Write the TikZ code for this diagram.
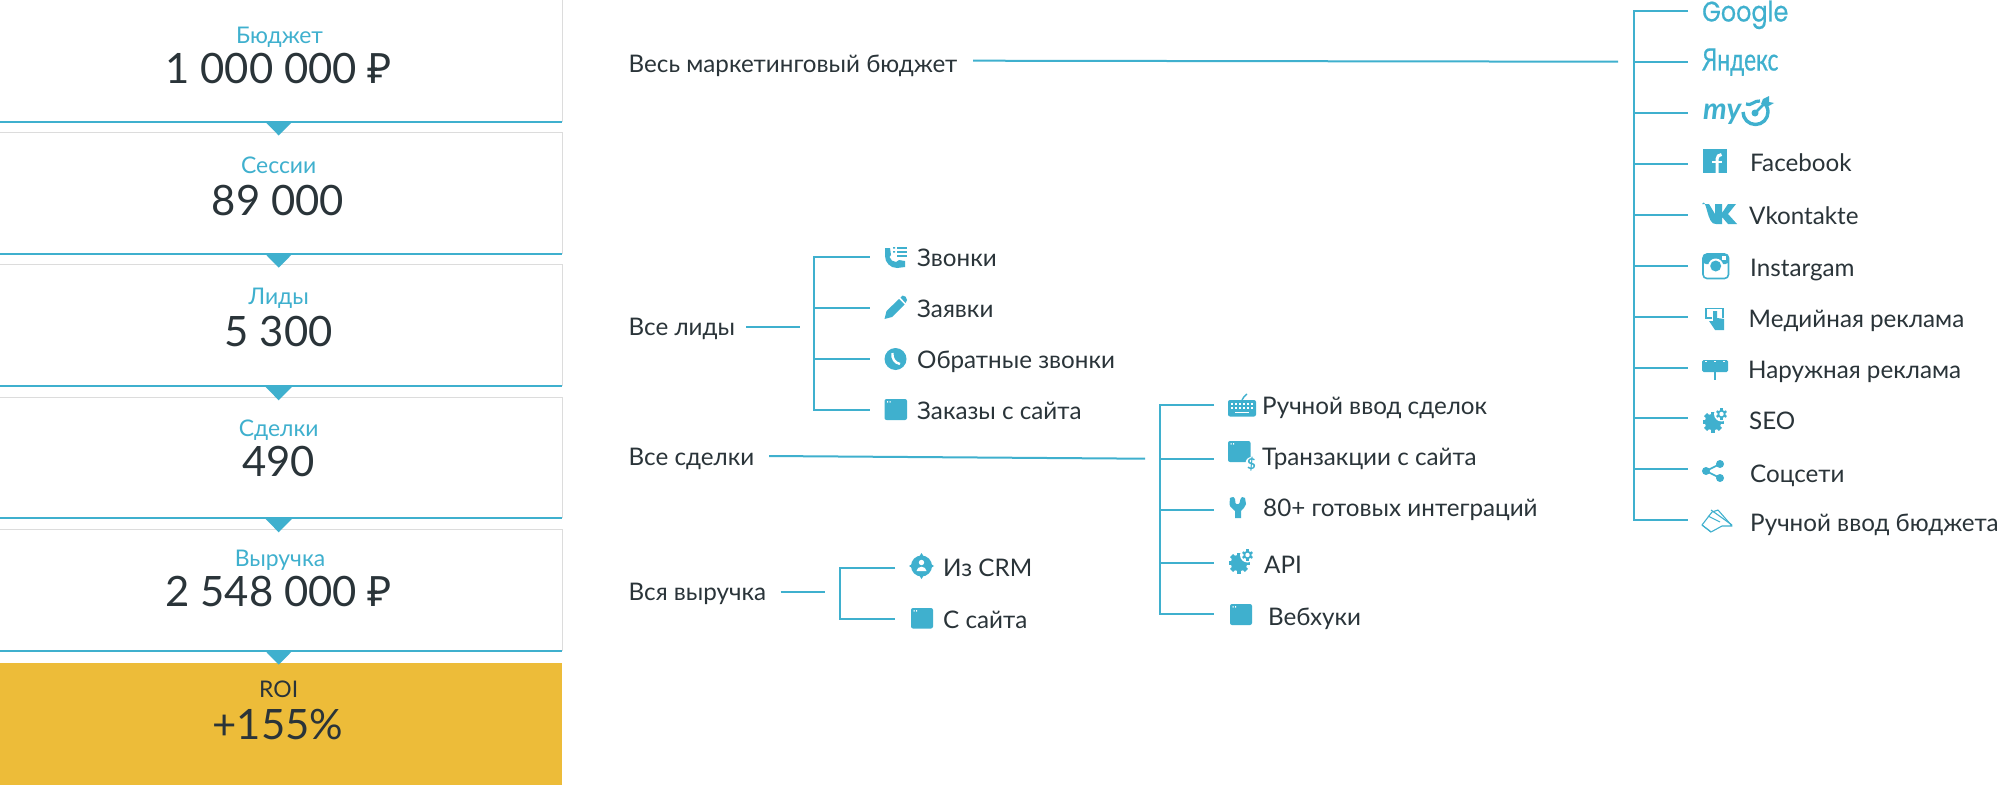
\documentclass[tikz,border=0pt]{standalone}
\usepackage{fontspec}
\usepackage{graphicx}
\setmainfont{Lato}
\newfontfamily\rubfont{Noto Sans}
\newfontfamily\popfont[FakeBold=0.5]{Poppins}
\newfontfamily\yafont[FakeBold=0.6]{Lato}
\definecolor{bl}{HTML}{3FB0CE}
\definecolor{dk}{HTML}{2A3439}
\definecolor{yl}{HTML}{EDBC39}
\definecolor{gr}{HTML}{DCDCDC}
\tikzset{
  x=1bp,y=-1bp,
  conn/.style={draw=bl,line width=2bp},
  boxline/.style={draw=gr,line width=1bp},
  flow/.style={draw=bl,line width=2bp},
  tip/.style={fill=bl,draw=none},
  ttl/.style={anchor=center,inner sep=0,text=bl,font=\fontsize{23}{27}\selectfont,text height=17bp,text depth=0bp},
  val/.style={anchor=center,inner sep=0,text=dk,font=\fontsize{42}{50}\selectfont,text height=30bp,text depth=0bp},
  lbl/.style={anchor=west,inner sep=0,yshift=-.8bp,text=dk,font=\fontsize{24.3}{28}\selectfont,text height=17.5bp,text depth=0bp},
  ic/.style={fill=bl,draw=none},
  icl/.style={draw=bl,line width=1.6bp,fill=none},
}
\newcommand{\winicon}[4]{% x y w h
  \fill[bl,rounded corners=2bp] (#1,#2) rectangle ++(#3,#4);
  \fill[white] (#1+2.5,#2+2) rectangle ++(1.2,1.5) (#1+5,#2+2) rectangle ++(1.2,1.5);
}
\newcommand{\gearicon}[3]{% x y of big gear centre, and size factor
  \begin{scope}[shift={(#1,#2)},scale=#3]
    \foreach \a in {0,45,...,315}{\fill[bl,rotate=\a] (-2.2,-10.5) rectangle (2.2,0);}
    \fill[bl] (0,0) circle (8.2);
    \fill[white] (8.5,-8) circle (7.5);
    \foreach \a in {0,60,...,300}{\fill[bl,shift={(8.5,-8)},rotate=\a] (-1.1,-5.6) rectangle (1.1,0);}
    \fill[bl] (8.5,-8) circle (4.2);
    \fill[white] (8.5,-8) circle (2.2);
  \end{scope}
}
\begin{document}
\begin{tikzpicture}
\useasboundingbox (0,0) rectangle (1999,785);
\fill[white] (0,0) rectangle (1999,785);
% left column
\fill[yl] (0,662.5) rectangle (562,785);
\foreach \t/\b in {0/121.5,132/253.7,264.5/386.3,397.3/518.3,529.5/650.7}{
  \draw[boxline] (0,\t) -- (562,\t) -- (562,\b);
}
\foreach \b in {121.5,253.7,386.3,518.3,650.7}{
  \draw[flow] (0,\b) -- (562,\b);
  \fill[tip] (265,\b) -- (292.5,\b) -- (278.7,\b+14) -- cycle;
}
\node[ttl] (t1) at (279.5,35.5) {Бюджет};
\node[val] (v1) at (278.7,68.5) {1 000 000 {\rubfont ₽}};
\node[ttl] (t2) at (278.7,165) {Сессии};
\node[val] (v2) at (278,200) {89 000};
\node[ttl] (t3) at (278.7,296) {Лиды};
\node[val] (v3) at (278.7,331) {5 300};
\node[ttl] (t4) at (278.7,428) {Сделки};
\node[val] (v4) at (278.7,461) {490};
\node[ttl] (t5) at (280,558) {Выручка};
\node[val] (v5) at (278.7,591.5) {2 548 000 {\rubfont ₽}};
\node[ttl,text=dk] (t6) at (278.7,689) {ROI};
\node[val] (v6) at (278,724) {+155\%};

% tree 1 : budget
\node[lbl] (budget) at (628.5,63) {Весь маркетинговый бюджет};
\coordinate (bs) at (973,60.7);
\coordinate (be) at (1618,61.7);
\draw[conn] (bs) -- (be);
\coordinate (bt) at (1633.5,11);
\coordinate (bb) at (1633.5,520);
\draw[conn] (1688,11) -- (bt) -- (bb) -- (1688,520);
\foreach \y in {61.7,113,163.7,214.7,265.7,316.7,367.7,418.3,469}{
  \draw[conn] (1633.5,\y) -- (1688,\y);
}
\node[anchor=west,inner sep=0,text=bl,font=\popfont\fontsize{24.5}{30}\selectfont,text height=20bp,text depth=0bp] (g) at (1702,11.5) {\scalebox{.98}[1.16]{Google}};
\node[anchor=west,inner sep=0,text=bl,font=\yafont\fontsize{31}{32}\selectfont,text height=22bp,text depth=0bp] (ya) at (1702,59.5) {\scalebox{.74}[1]{Яндекс}};
\node[anchor=west,inner sep=0,text=bl,font=\bfseries\itshape\fontsize{30}{32}\selectfont,text height=14bp,text depth=0bp] (my) at (1703,112) {my};
\draw[bl,line width=3.4bp] (1743,112) arc (180:-50:12.5);
\draw[bl,line width=3.2bp] (1746,104) to[out=-30,in=170] (1760,101);
\draw[bl,line width=2.6bp] (1755,113) -- (1767,101);
\fill[bl] (1755,113) circle (3.5);
\fill[bl] (1763,99) -- (1769,96) -- (1769,102) -- (1774,103) -- (1767,107) -- (1761,104) -- cycle;

\node[lbl] (fb) at (1750,162) {Facebook};
\fill[bl] (1703,149) rectangle (1727,173);
\draw[white,line width=3bp] (1721.5,154.5) to[out=180,in=90] (1717,159) -- (1717,173);
\draw[white,line width=2.6bp] (1712,162) -- (1722,162);

\node[lbl] (vk) at (1749,215) {Vkontakte};
\fill[bl] (1702,204) -- (1709,204) -- (1715,214) -- (1715,204) -- (1722,204) -- (1722,213) -- (1728,204) -- (1736,204) -- (1728,214) -- (1737,224) -- (1728,224) -- (1722,217) -- (1722,224) -- (1716,224) to[out=190,in=60] (1702,204) -- cycle;

\node[lbl] (ig) at (1750,267) {Instargam};
\draw[icl,rounded corners=4bp] (1703,254) rectangle (1728.5,278.5);
\fill[bl,rounded corners=3bp] (1703,254) -- (1728.5,254) -- (1728.5,264) -- (1703,264) -- cycle;
\fill[white] (1715.7,266) circle (7.5);
\fill[bl] (1715.7,266) circle (5.5);
\fill[white] (1722,256) rectangle (1726,260);

\node[lbl] (md) at (1748.5,318) {Медийная реклама};
\draw[icl] (1712,318) -- (1706,318) -- (1706,308.5) -- (1723,308.5) -- (1723,318);
\fill[bl] (1713,311) -- (1717,311) -- (1717,318) -- (1724,319) -- (1724,330) -- (1715,330) -- (1709,321) -- (1713,321) -- cycle;

\node[lbl] (od) at (1748,369) {Наружная реклама};
\fill[bl,rounded corners=1.5bp] (1702,360) rectangle (1728,372);
\fill[bl] (1714.3,372) rectangle (1715.7,380);
\foreach \x in {1706,1715,1724}{\fill[white] (\x-.7,361) rectangle ++(1.4,1.4);}

\node[lbl] (seo) at (1749,420) {SEO};
\gearicon{1713}{422}{1}

\node[lbl] (soc) at (1750,472.5) {Соцсети};
\draw[bl,line width=1.6bp] (1720,464) -- (1706,471) -- (1720,478);
\fill[bl] (1720,464) circle (4) (1706,471) circle (4) (1720,478) circle (4);

\node[lbl] (man) at (1750,522) {Ручной ввод бюджета};
\draw[bl,line width=1.1bp,line join=round] (1702,525) -- (1712,512) -- (1718,510) -- (1732,526) -- (1722,526) -- (1711,532) -- cycle;
\draw[bl,line width=1.1bp] (1711,510) -- (1732,525) (1708,516) -- (1720,522) (1702,525) -- (1711,532);

% tree 2 : leads
\node[lbl] (leads) at (628.5,326) {Все лиды};
\coordinate (ls) at (746,326.7);
\coordinate (le) at (800,326.7);
\draw[conn] (ls) -- (le);
\coordinate (lt) at (814,257.3);
\coordinate (lb) at (814,410);
\draw[conn] (869.5,257.3) -- (lt) -- (lb) -- (869.5,410);
\draw[conn] (814,308) -- (869.5,308);
\draw[conn] (814,359) -- (869.5,359);
\node[lbl] (l1) at (917,257) {Звонки};
\node[lbl] (l2) at (917,308) {Заявки};
\node[lbl] (l3) at (917,359) {Обратные звонки};
\node[lbl] (l4) at (917,410) {Заказы с сайта};
% phone list
\fill[bl] (885,248) -- (890,248) -- (891,255) -- (889.5,257) to[out=-70,in=180] (896,262) -- (899,260) -- (905,261) -- (905,267) -- (897,268) to[out=180,in=-90] (885,256) -- cycle;
\foreach \y in {247,251,255}{\fill[bl] (897,\y) rectangle (907,\y+1.7);}
\fill[bl] (893,247) rectangle (895,248.7) (893,251) rectangle (895,252.7);
% pencil
\fill[bl] (884.5,319) -- (886.5,311) -- (899,299) -- (904.5,304.5) -- (892,317) -- cycle;
\fill[bl] (900.5,297.5) -- (902.5,295.5) to[out=0,in=90] (907,300) -- (905.5,303) -- cycle;
% round phone
\fill[bl] (895.5,359) circle (11);
\draw[white,line width=2.4bp] (892.5,353) to[out=-100,in=170] (900,364);
% window
\winicon{884.5}{399}{22.5}{21}

% tree 3 : deals
\node[lbl] (deals) at (628.5,456) {Все сделки};
\coordinate (ds) at (769,456);
\coordinate (de) at (1145,458.7);
\draw[conn] (ds) -- (de);
\coordinate (dt) at (1159.5,404.7);
\coordinate (db) at (1159.5,614);
\draw[conn] (1214,404.7) -- (dt) -- (db) -- (1214,614);
\foreach \y in {459.3,510,562.7}{\draw[conn] (1159.5,\y) -- (1214,\y);}
\node[lbl] (d1) at (1262,405) {Ручной ввод сделок};
\node[lbl] (d2) at (1262,456) {Транзакции с сайта};
\node[lbl] (d3) at (1263,507) {80+ готовых интеграций};
\node[lbl] (d4) at (1264,564) {API};
\node[lbl] (d5) at (1268,616) {Вебхуки};
% keyboard
\fill[bl,rounded corners=2bp] (1228,400) rectangle (1256,416.5);
\draw[bl,line width=1.4bp] (1242,400) to[out=90,in=-120] (1247,394);
\foreach \y in {403,407}{\foreach \x in {1231,1235,...,1251}{\fill[white] (\x,\y) rectangle ++(2.2,2);}}
\fill[white] (1235,411.5) rectangle (1249,413);
% transactions
\winicon{1228}{441}{22.5}{21}
\fill[white] (1251.5,463) circle (6);
\node[inner sep=0,text=bl,font=\bfseries\fontsize{15}{16}\selectfont] (dollar) at (1251.5,464) {\$};
% wrench
\fill[bl] (1230,498) to[out=-90,in=180] (1231,497.5) -- (1233.5,497) -- (1235,499) -- (1235.5,503) to[out=-90,in=-90] (1239.5,503) -- (1240.5,499) -- (1242,497) -- (1245,498) -- (1246,504) to[out=-90,in=60] (1241,511) -- (1241,518) -- (1235,518) -- (1235,511) to[out=120,in=-90] (1229.5,504) -- cycle;
% api gears
\gearicon{1239}{563}{1}
% webhooks window
\winicon{1230}{604}{22}{21}

% tree 4 : revenue
\node[lbl] (rev) at (628.5,591) {Вся выручка};
\coordinate (rs) at (780.5,591.7);
\coordinate (re) at (825,591.7);
\draw[conn] (rs) -- (re);
\coordinate (rt) at (840,567.7);
\coordinate (rb) at (840,619);
\draw[conn] (895,567.7) -- (rt) -- (rb) -- (895,619);
\node[lbl] (r1) at (943,567) {Из CRM};
\node[lbl] (r2) at (943,619) {С сайта};
\fill[bl] (921.5,566) circle (10.5);
\fill[bl] (921.5,553) -- (924,557) -- (919,557) -- cycle (921.5,579) -- (924,575) -- (919,575) -- cycle (909,566) -- (913,563.5) -- (913,568.5) -- cycle (934,566) -- (930,563.5) -- (930,568.5) -- cycle;
\fill[white] (921.5,562.5) circle (2.7);
\fill[white] (916.5,571) to[out=80,in=180] (921.5,566.7) to[out=0,in=100] (926.5,571) -- cycle;
\winicon{911}{608}{22}{20.5}
\end{tikzpicture}
\end{document}
